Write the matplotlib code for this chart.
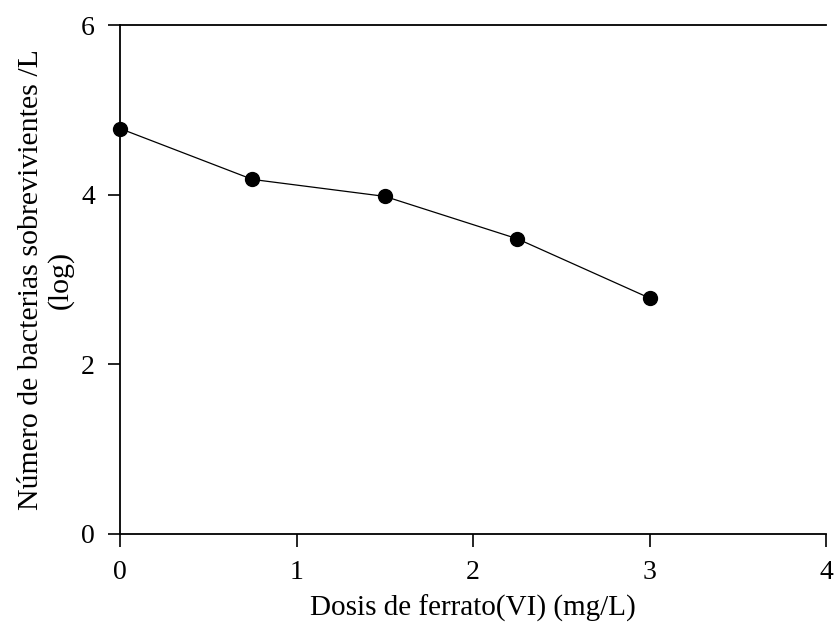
import matplotlib
matplotlib.use("Agg")
import matplotlib.pyplot as plt

dosis = [0, 0.75, 1.5, 2.25, 3.0]
log_bacterias = [4.78, 4.18, 3.98, 3.48, 2.78]
x_ticks = [0, 1, 2, 3, 4]
y_ticks = [0, 2, 4, 6]

plt.rcParams['font.family'] = ['Liberation Serif', 'DejaVu Serif']

fig = plt.figure(figsize=(8.36, 6.26), dpi=100)
ax = fig.add_axes([0.1435, 0.147, 0.845, 0.813])

ax.plot(dosis, log_bacterias, color='black', linewidth=0.9,
        marker='o', markersize=10, markerfacecolor='black',
        markeredgecolor='black', clip_on=False, zorder=3)

ax.set_xlim(0, 4)
ax.set_ylim(0, 6)
ax.set_xticks(x_ticks)
ax.set_yticks(y_ticks)
ax.tick_params(direction='out', length=9, width=1.2, labelsize=20)
ax.tick_params(axis='x', pad=10)
ax.tick_params(axis='y', pad=9)

ax.spines['right'].set_visible(False)
for side in ('left', 'bottom', 'top'):
    ax.spines[side].set_linewidth(1.3)

ax.set_xlabel('Dosis de ferrato(VI) (mg/L)', fontsize=21, labelpad=7)
ax.set_ylabel('Número de bacterias sobrevivientes /L\n(log)', fontsize=21.5,
              linespacing=1.1)
ax.yaxis.set_label_coords(-0.066, 0.5)

fig.savefig('out.png', dpi=100)
